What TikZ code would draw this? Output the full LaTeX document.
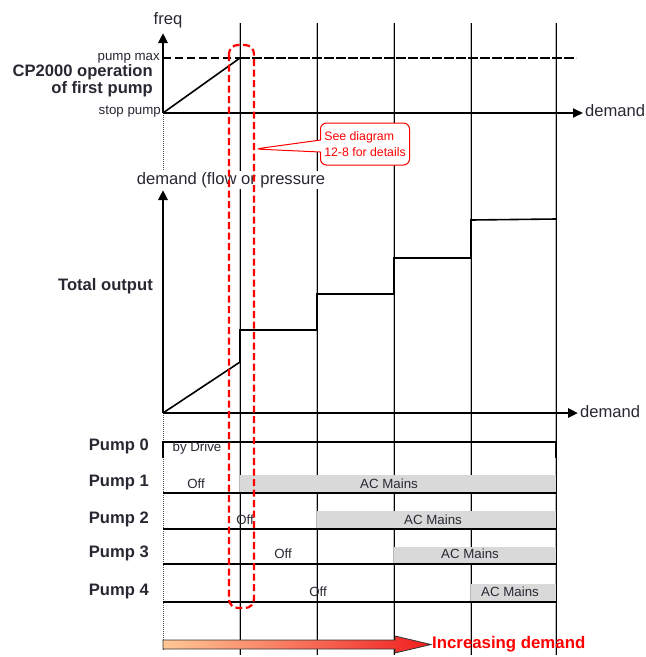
\documentclass[tikz,border=0pt]{standalone}
\usepackage{fontspec}
\setmainfont{Liberation Sans}
\usetikzlibrary{arrows.meta,positioning,shapes.callouts}

\definecolor{barfill}{RGB}{217,217,217}
\definecolor{peach}{RGB}{255,200,150}
\definecolor{hotred}{RGB}{240,30,30}
\definecolor{inkgray}{RGB}{40,40,50}

\begin{document}
\begin{tikzpicture}[x=1pt, y=-1pt,
  axis/.style={line width=2.6pt, -{Triangle[length=10pt, width=9pt]}},
  haxis/.style={line width=2pt, -{Triangle[length=10pt, width=9pt]}},
  gridln/.style={gray!55, line width=2.2pt},
  gridcore/.style={black, line width=0.8pt},
  leftln/.style={black!70, line width=1pt, densely dotted},
  rowln/.style={black, line width=1.6pt},
  curve/.style={black, line width=1.6pt},
  bar/.style={fill=barfill, draw=none},
  bigbold/.style={font=\fontsize{16.6}{17}\selectfont\bfseries, text=inkgray, inner sep=0pt},
  axlbl/.style={font=\fontsize{16.6}{18}\selectfont, text=inkgray, inner sep=0pt},
  lvl/.style={font=\fontsize{13.3}{14}\selectfont, text=inkgray, inner sep=0pt},
  state/.style={font=\fontsize{13.3}{15}\selectfont, text=inkgray, inner sep=0pt},
  marker/.style={red, line width=2.2pt, dash pattern=on 7pt off 3.5pt, rounded corners=9pt},
  note/.style={rectangle callout, draw=red, line width=1pt, rounded corners=6pt, fill=white,
               font=\fontsize{12.3}{16}\selectfont, text=red, align=left, inner sep=3pt,
               callout pointer width=12pt}]
  \useasboundingbox (0,0) rectangle (646,657);

  \foreach \x in {240,317,394,471,556} {
    \draw[gridln] (\x,23) -- (\x,655);
    \draw[gridcore] (\x,23) -- (\x,655);
  }
  \draw[leftln] (163,113) -- (163,170);
  \draw[leftln] (163,413) -- (163,650);

  % first pump frequency
  \coordinate (o1) at (163,113);
  \coordinate (fq) at (163,33);
  \coordinate (d1) at (583,113);
  \coordinate (pmax) at (240,58);
  \draw[line width=2pt, dash pattern=on 8pt off 4pt] (163,58) -- (pmax);
  \draw[line width=2pt, dash pattern=on 10pt off 2pt] (pmax) -- (576,58);
  \draw[curve] (o1) -- (pmax);
  \draw[axis] (o1) -- (fq);
  \draw[haxis] (o1) -- (d1);
  \node[axlbl] (freq) at (168,20) {freq};
  \node[axlbl, anchor=west] (dem1) at (585,111) {demand};
  \node[lvl, anchor=east] (maxlbl) at (160,58) {pump max};
  \node[lvl, anchor=east] (stoplbl) at (161,112) {stop pump};
  \node[bigbold, align=right, anchor=east] (cp) at (153,81) {CP2000 operation\\of first pump};

  % total output
  \coordinate (o2) at (163,413);
  \coordinate (ty) at (163,190);
  \coordinate (d2) at (578,413);
  \node[axlbl, fill=white, inner sep=1pt] (ylbl) at (231,180) {demand (flow or pressure};
  \draw[curve] (o2) -- (240,362) -- (240,330) -- (317,330) -- (317,294) -- (394,294)
    -- (394,258) -- (471,258) -- (471,220) -- (556,219);
  \draw[axis] (o2) -- (ty);
  \draw[axis] (o2) -- (d2);
  \node[axlbl, anchor=west] (dem2) at (580,412) {demand};
  \node[bigbold, anchor=east] (total) at (153,286) {Total output};

  % pump states
  \fill[bar] (240,475) rectangle (556,493);
  \fill[bar] (317,511) rectangle (556,529);
  \fill[bar] (394,547) rectangle (556,564);
  \fill[bar] (471,584) rectangle (556,602);
  \draw[rowln] (163,458) -- (163,442) -- (556,442) -- (556,458);
  \foreach \y in {493,529,564,602} {
    \draw[rowln] (163,\y) -- (556,\y);
  }
  \node[bigbold, anchor=east] (p0) at (149,446) {Pump 0};
  \node[bigbold, anchor=east] (p1) at (149,483) {Pump 1};
  \node[bigbold, anchor=east] (p2) at (149,519) {Pump 2};
  \node[bigbold, anchor=east] (p3) at (149,553) {Pump 3};
  \node[bigbold, anchor=east] (p4) at (149,592) {Pump 4};
  \node[state] (drive) at (197,448) {by Drive};
  \node[state] (off1) at (196,484) {Off};
  \node[state] (off2) at (245,520) {Off};
  \node[state] (off3) at (283,554) {Off};
  \node[state] (off4) at (318,592) {Off};
  \node[state] (ac1) at (389,484) {AC Mains};
  \node[state] (ac2) at (433,520) {AC Mains};
  \node[state] (ac3) at (470,554) {AC Mains};
  \node[state] (ac4) at (510,592) {AC Mains};

  % marked region and note
  \draw[marker] (229,45) rectangle (254,608);
  \coordinate (tip) at (255,149);
  \node[note, callout absolute pointer={(tip)}, minimum width=89pt, minimum height=42pt]
    (see) at (365,144) {See diagram\\12-8 for details};

  % demand arrow
  \shadedraw[left color=peach, right color=hotred, draw=black!80, line width=0.8pt]
    (163,640) -- (395,640) -- (395,636) -- (431,644.5) -- (395,653) -- (395,649) -- (163,649) -- cycle;
  \node[font=\fontsize{16.8}{18}\selectfont\bfseries, text=red, anchor=west, inner sep=0pt]
    (incr) at (432,644) {Increasing demand};
\end{tikzpicture}
\end{document}
